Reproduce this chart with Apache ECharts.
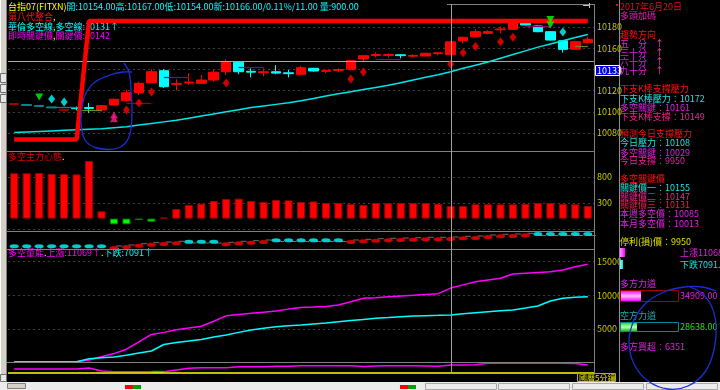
<!DOCTYPE html>
<html><head><meta charset="utf-8">
<script src="https://cdn.jsdelivr.net/npm/echarts@6/dist/echarts.min.js"></script>
<style>html,body{margin:0;padding:0;background:#000;}#c{width:720px;height:390px;}</style>
</head><body><div id="c"></div>
<script>
// ---------- data ----------
const categories = ['0','1','2','3','4','5','6','7','8','9','10','11','12','13','14','15','16','17','18','19','20','21','22','23','24','25','26','27','28','29','30','31','32','33','34','35','36','37','38','39','40','41','42','43','44','45','46'];
// [open, close, low, high]
const candles = [
 [10107.8,10106.9,10106.9,10107.8],[10106.9,10106.0,10106.0,10106.9],[10106.0,10105.1,10105.1,10106.0],
 [10104.6,10103.7,10103.7,10104.6],[10101.4,10102.3,10101.4,10102.3],[10103.8,10103.0,10101.5,10105.0],
 [10104.0,10103.2,10098.9,10108.3],[10101.7,10105.8,10100.1,10106.5],[10106.4,10111.8,10105.8,10112.8],
 [10110.5,10118.0,10109.5,10120.6],[10118.0,10126.9,10115.8,10128.4],[10127.5,10137.8,10126.9,10140.2],
 [10138.8,10123.7,10122.5,10140.2],[10126.0,10126.8,10119.9,10130.7],[10127.2,10128.0,10125.3,10136.3],
 [10126.9,10130.0,10126.5,10134.7],[10130.0,10137.3,10128.4,10139.4],[10137.8,10147.3,10134.7,10149.5],
 [10146.7,10137.8,10135.5,10147.3],[10138.2,10137.4,10132.5,10141.0],[10137.0,10137.8,10133.5,10141.0],
 [10137.8,10136.5,10135.4,10144.0],[10136.8,10136.0,10132.5,10139.5],[10135.4,10141.6,10135.0,10143.2],
 [10141.0,10138.5,10138.0,10141.5],[10138.2,10138.9,10136.6,10139.7],[10139.1,10139.9,10137.5,10141.0],
 [10140.1,10148.2,10139.0,10148.5],[10149.8,10152.9,10147.9,10153.6],[10153.2,10154.0,10151.2,10156.0],
 [10153.2,10154.0,10151.2,10155.2],[10153.8,10153.0,10150.5,10154.3],[10152.5,10153.2,10151.2,10154.3],
 [10152.6,10155.2,10152.3,10155.5],[10154.9,10155.7,10153.3,10155.8],[10154.0,10166.0,10154.0,10167.0],
 [10167.1,10170.3,10164.6,10170.8],[10170.8,10175.6,10170.3,10177.9],[10174.0,10175.6,10173.0,10177.0],
 [10177.4,10178.2,10174.0,10180.3],[10177.8,10184.0,10177.5,10184.5],[10183.5,10181.9,10181.5,10184.0],
 [10181.0,10175.6,10175.0,10181.5],[10175.6,10167.7,10167.0,10176.0],[10167.0,10158.9,10155.8,10167.5],
 [10159.0,10166.1,10158.5,10166.5],[10165.2,10168.4,10165.0,10170.8]
];
const earlyTint = ['dimred','teal','teal','teal','dimred'];
const maLine = [10080.5,10081,10081.5,10082,10082.5,10083,10083.5,10084,10085,10086,10087.5,10089,10090.5,10092,10094,10096,10098,10100,10102,10104,10105.5,10107,10108.5,10110.5,10112.5,10115,10117,10119,10121,10123,10125,10127.5,10130,10132.5,10135,10137.8,10141,10144,10147,10150.5,10154,10157.5,10161,10164,10167,10170,10173];
const stepLine = [10073.8,10073.8,10073.8,10073.8,10073.8,10073.8,10185.7,10185.7,10185.7,10185.7,10185.7,10185.7,10185.7,10185.7,10185.7,10185.7,10185.7,10185.7,10185.7,10185.7,10185.7,10185.7,10185.7,10185.7,10185.7,10185.7,10185.7,10185.7,10185.7,10185.7,10185.7,10185.7,10185.7,10185.7,10185.7,10185.7,10185.7,10185.7,10185.7,10185.7,10185.7,10185.7,10185.7,10185.7,10185.7,10185.7,10185.7];
const redDiamonds = [[9,10101.7],[10,10108.3],[11,10118.7],[17,10127.2],[27,10131],[28,10137.5],[35,10145],[36,10155.8],[37,10161.6],[39,10166.1],[40,10170.3]];
const cyanDiamonds = [[3,10112],[4,10109.2],[44,10175.3]];
const downArrows = [[2,10114],[43,10187],[43,10182]];
const upArrows = [[8,10097],[8,10093.5]];
const segFrom = [3,5,9,12,18,29,41,45];
const segTo   = [5,7,11,14,20,31,43,46];
const segVal  = [10104.6,10101,10108,10132.5,10142,10149.8,10181,10161.4];
const segKind = ['teal','olive','dimred','purple','purple','purple','purple','olive'];
const crossPrice = 10148;
const crossIndex = 35;
const priceTicks = [10060,10200,20];

const mainForce = [871,871,877,858,858,851,1108,140,-110,-110,-25,-60,20,185,262,287,338,377,383,338,319,358,351,320,330,300,300,281,262,300,294,300,300,300,281,242,242,275,275,275,275,281,300,300,281,275,242];

const stripVal = [2.7,2.7,2.7,2.7,2.7,2.7,2.7,2.7,1,2,3.3,4.3,5,5.7,7.3,7.3,7.3,4.7,5.7,6.3,7,8.7,8.7,8.7,8.7,8.7,8.7,7,7.7,8.3,8.7,9,9.3,9.7,9.7,10,10.7,11,12,12.7,13,13.7,15,15,15,15,15];
const stripUp  = [0,0,0,0,0,0,0,0,1,1,1,1,1,1,0,0,0,1,1,1,1,0,0,0,0,0,0,1,1,1,1,1,1,1,1,1,1,1,1,1,1,1,0,0,0,0,0];
const stripGray = [null,null,null,null,null,null,null,null,3,4,5.3,6.3,7,7.7,6,6,6,6.7,7.7,8.3,9,7.5,7.5,7.5,7.5,7.5,7.5,9,9.7,10.3,10.7,11,11.3,11.7,11.7,12,12.7,13,14,14.7,15,15.7,13.5,13.5,13.5,13.5,13.5];

const upVolume = [150,150,150,150,150,150,400,890,1350,2000,3100,4200,4500,4900,5150,5400,6150,6950,7150,7330,7500,7670,7950,8180,8250,8330,8560,9050,9550,9650,9780,9900,10000,10120,10240,11069,11550,12020,12270,12520,13160,13280,13400,13500,13760,14250,14600];
const downVolume = [150,150,150,150,150,150,600,750,850,1100,1440,1740,2700,3000,3220,3450,3800,4100,4500,4850,5100,5340,5470,5590,5750,5900,6080,6250,6420,6590,6700,6820,6930,6980,7030,7091,7250,7410,7570,7700,7820,8100,8410,9150,9550,9700,9790];
const volTicks = [0,16870,5000];

const bottomLine = [4,4,4,4,4,4,5,2,1.3,1.3,1.3,1.3,1.3,3,4.7,5.3,5.3,5.3,6.3,6.3,6.3,6.7,6.7,7.3,7.3,7.3,7.3,7.3,6.5,7,7.3,7.3,7.3,7,6.7,8,8,8.3,9.7,9.7,9.7,9.7,9.7,9.7,9.7,9.5,8];
const bottomGreen = [null,null,null,null,null,null,null,null,null,null,null,1.3,1.3,null,null,null,null,null,null,null,null,null,null,null,null,null,null,null,null,null,null,null,null,null,null,null,null,null,null,null,null,null,null,null,null,null,null];
const bottomBase = 0.7;

// ---------- styling ----------
const FONT = '"Noto Sans CJK TC","Noto Sans CJK SC",sans-serif';
const F9 = '9px ' + FONT;
const AX = '#c8c800';
const tint = {dimred:'#a00000', teal:'#008b8b', olive:'#6b8e23', purple:'#800080'};
const W = {left:8, right:126};
const splitStyle = {show:true, showMinLine:false, showMaxLine:false, lineStyle:{color:'#3c3c3c', type:[2,3], width:1}};
const plain = v => String(v);

const candleData = candles.map((c,i)=> i<earlyTint.length ?
  {value:c, itemStyle:{color:tint[earlyTint[i]], color0:tint[earlyTint[i]], borderColor:tint[earlyTint[i]], borderColor0:tint[earlyTint[i]]}} : c);

const segLines = segFrom.map((s,k)=>[
  {coord:[s, segVal[k]], lineStyle:{color:tint[segKind[k]], width:1.2, type:'solid'}},
  {coord:[segTo[k], segVal[k]]}
]);

const ellipse = 'path://M0 5A10 5 0 1 0 20 5A10 5 0 1 0 0 5Z';

function xa(g){return {type:'category', gridIndex:g, data:categories, show:false, boundaryGap:true};}

const option = {
  backgroundColor:'#000',
  animation:false,
  grid:[
    Object.assign({top:5.8, height:148.4}, W),
    Object.assign({top:151, height:78}, W),
    Object.assign({top:231, height:18}, W),
    Object.assign({top:249, height:113.7}, W),
    Object.assign({top:362.7, height:10.3}, W)
  ],
  xAxis:[xa(0),xa(1),xa(2),xa(3),xa(4)],
  yAxis:[
    {gridIndex:0, position:'right', min:priceTicks[0], max:priceTicks[1], interval:priceTicks[2],
     axisLine:{show:false}, axisTick:{show:false}, splitLine:splitStyle,
     axisLabel:{color:AX, fontSize:9, fontFamily:FONT, margin:3, showMinLabel:false, showMaxLabel:false, formatter:plain}},
    {gridIndex:1, position:'right', min:-200, max:1300, interval:500,
     axisLine:{show:false}, axisTick:{show:false},
     splitLine:{show:true, showMinLine:true, showMaxLine:false, lineStyle:{color:'#3c3c3c', type:[2,3]}},
     axisLabel:{color:AX, fontSize:9, fontFamily:FONT, margin:3, showMinLabel:false, showMaxLabel:false, formatter:plain}},
    {gridIndex:2, min:0, max:18, show:false},
    {gridIndex:3, position:'right', min:volTicks[0], max:volTicks[1], interval:volTicks[2],
     axisLine:{show:false}, axisTick:{show:false}, splitLine:splitStyle,
     axisLabel:{color:AX, fontSize:9, fontFamily:FONT, margin:3, showMinLabel:false, showMaxLabel:false, formatter:plain}},
    {gridIndex:4, min:0, max:10.3, show:false}
  ],
  series:[
    {type:'candlestick', xAxisIndex:0, yAxisIndex:0, data:candleData, barWidth:10, z:3,
     itemStyle:{color:'#ff0000', color0:'#00ffff', borderColor:'#ff0000', borderColor0:'#00ffff', borderWidth:1},
     markLine:{silent:true, symbol:['none','none'], label:{show:false}, animation:false,
       data:[{yAxis:crossPrice, lineStyle:{color:'#a8a8a8', type:'solid', width:1}}].concat(segLines)}},
    {type:'line', xAxisIndex:0, yAxisIndex:0, data:maLine, symbol:'none', z:4,
     lineStyle:{color:'#00e6e6', width:1.5}},
    {type:'line', xAxisIndex:0, yAxisIndex:0, data:stepLine, symbol:'none', z:5,
     lineStyle:{color:'#ff0000', width:4.5}},
    {type:'scatter', xAxisIndex:0, yAxisIndex:0, data:redDiamonds, symbol:'diamond', symbolSize:[7,9], z:6,
     itemStyle:{color:'#ff0000'}},
    {type:'scatter', xAxisIndex:0, yAxisIndex:0, data:cyanDiamonds, symbol:'diamond', symbolSize:[7,9], z:6,
     itemStyle:{color:'#00ffff'}},
    {type:'scatter', xAxisIndex:0, yAxisIndex:0, data:downArrows, symbol:'triangle', symbolRotate:180, symbolSize:[8,7], z:6,
     itemStyle:{color:'#00ff00'}},
    {type:'scatter', xAxisIndex:0, yAxisIndex:0, data:upArrows, symbol:'triangle', symbolSize:[8,7], z:6,
     itemStyle:{color:'#ff1a8c'}},
    {type:'bar', xAxisIndex:1, yAxisIndex:1, barWidth:8,
     data:mainForce.map(v=>({value:v, itemStyle: v>=0 ? {color:'#ff0000', borderColor:'#a00000', borderWidth:1}
                                                   : {color:'#00ff00', borderColor:'#008000', borderWidth:1}}))},
    {type:'scatter', xAxisIndex:2, yAxisIndex:2, symbol:'rect', symbolSize:[6,1], symbolOffset:[5,0],
     itemStyle:{color:'#8c8c8c'}, data:stripGray.map((v,i)=>[i,v])},
    {type:'scatter', xAxisIndex:2, yAxisIndex:2, symbol:ellipse, symbolSize:[9,4], z:3,
     data:stripVal.map((v,i)=>({value:[i,v], itemStyle:{color: stripUp[i] ? '#ff0000' : '#00ffff'}}))},
    {type:'line', xAxisIndex:3, yAxisIndex:3, data:upVolume, symbol:'none', lineStyle:{color:'#ff00ff', width:1.5}},
    {type:'line', xAxisIndex:3, yAxisIndex:3, data:downVolume, symbol:'none', lineStyle:{color:'#00ffff', width:1.5}},
    {type:'line', xAxisIndex:4, yAxisIndex:4, data:bottomLine, symbol:'none', lineStyle:{color:'#ff00ff', width:1.5},
     markLine:{silent:true, symbol:['none','none'], label:{show:false},
       data:[{yAxis:bottomBase, lineStyle:{color:'#ffff00', width:1.5, type:'solid'}}]}},
    {type:'line', xAxisIndex:4, yAxisIndex:4, data:bottomGreen, symbol:'none', lineStyle:{color:'#00c000', width:2}, z:3}
  ],
  graphic:{elements:[]}
};

// ---------- graphic helpers ----------
const G = option.graphic.elements;
let gid = 0;
function txt(x,y,text,fill,font,z){G.push({id:'g'+(gid++), type:'text', z:z||1, style:{x:x, y:y, text:text, fill:fill, font:font||F9, textVerticalAlign:'middle', verticalAlign:'middle'}});}
function rtxt(x,y,parts,z){
  let s='', rich={};
  parts.forEach((p,k)=>{s+='{p'+k+'|'+p[0]+'}'; rich['p'+k]={fill:p[1], font:F9};});
  G.push({id:'g'+(gid++), type:'text', z:z||1, style:{x:x, y:y, text:s, rich:rich, font:F9, textVerticalAlign:'middle', verticalAlign:'middle'}});
}
function rect(x,y,w,h,fill,stroke,z){G.push({id:'g'+(gid++), type:'rect', z:z||1, shape:{x:x,y:y,width:w,height:h}, style:{fill:fill||'none', stroke:stroke||null, lineWidth:1}});}
function line(x1,y1,x2,y2,stroke,w,z){G.push({id:'g'+(gid++), type:'line', z:z||1, shape:{x1:x1,y1:y1,x2:x2,y2:y2}, style:{stroke:stroke, lineWidth:w||1}});}
function poly(points,stroke,w,z){G.push({id:'g'+(gid++), type:'polyline', z:z||60, shape:{points:points, smooth:0.35}, style:{stroke:stroke, lineWidth:w, fill:'none'}});}

// frame lines
[151.5,231.5,249.5,362.5].forEach(y=>line(7,y,594,y,'#808080',1,8));
line(447,4.5,594,4.5,'#808080',1,8);
line(594.5,4,594.5,373,'#808080',1,8);
line(619.5,0,619.5,382,'#909090',1,8);
line(583,5.5,589,5.5,'#c0c0c0',1,8); line(589.5,3,589.5,8,'#c0c0c0',1,8);
rect(616,4,2,2,'#ff0000',null,8);

// header texts
rtxt(8,7,[['台指07(FITXN)','#ffff00'],['開:10154.00高:10167.00低:10154.00新:10166.00/0.11%/11.00 量:900.00','#00ffff']]);
rtxt(8,17,[['第八代整合','#ff1010'],[',','#ffff00']]);
rtxt(8,27,[['華倫多空線','#00ffff'],[',','#ffff00'],['多空線:10131↑','#00ffff']]);
rtxt(8,36,[['即時關鍵價','#ff00ff'],[',','#ffff00'],['關鍵價:10142','#ff00ff']]);
rtxt(8,157,[['多空主力心態','#e00000'],['.','#ffff00']]);
rtxt(8,253,[['多空量能','#ff00ff'],['.','#ffff00'],['上漲:11069↑','#ff00ff'],['.','#ffff00'],['下跌:7091↑','#00ffff']]);

// highlighted price label
rect(595.5,65.5,24,10,'#0000d8','#ffffff',20);
txt(597,70.8,'10133','#ffffff',F9,21);

// right info panel
txt(620,7,'2017年6月20日','#e0102a');
txt(620,16,'多頭加碼','#e020b0');
txt(620,35,'趨勢方向','#ff1010');
[['五　分',44],['三十分',53],['六十分',62],['九十分',71]].forEach(r=>{txt(620,r[1],r[0],'#e020e0'); txt(655,r[1],'↑','#ff40c0');});
txt(620,89,'下支K棒支撐壓力','#ff1010');
txt(620,99,'下支K棒壓力：10172','#20e0e0');
txt(620,108,'多空關鍵：10161','#e020e0');
txt(620,116.5,'下支K棒支撐：10149','#f02090');
txt(620,134,'預測今日支撐壓力','#ff1010');
txt(620,143,'今日壓力：10108','#20e0e0');
txt(620,152.5,'多空關鍵：10029','#e020e0');
txt(620,161,'今日支撐：9950','#f020a0');
txt(620,179,'多空關鍵價','#ff1010');
txt(620,188,'關鍵價一：10155','#20e0e0');
txt(620,196.5,'關鍵價二：10147','#f02090');
txt(620,205,'關鍵價三：10131','#e02050');
txt(620,214,'本週多空價：10085','#e020e0');
txt(620,223.5,'本月多空價：10013','#e020e0');
txt(620,241.5,'停利(損)價：9950','#e0e000');
G.push({id:'g'+(gid++), type:'rect', z:2, shape:{x:619,y:248,width:6,height:9}, style:{fill:new echarts.graphic.LinearGradient(0,0,1,0,[{offset:0,color:'#ffb0ff'},{offset:1,color:'#ff00ff'}])}});
txt(680,253,'上漲11068','#e020e0');
G.push({id:'g'+(gid++), type:'rect', z:2, shape:{x:619,y:260,width:4,height:9}, style:{fill:new echarts.graphic.LinearGradient(0,0,1,0,[{offset:0,color:'#c0ffff'},{offset:1,color:'#00e0e0'}])}});
txt(680,265,'下跌7091.00','#20e0e0');
txt(620,284,'多方力道','#e020e0');
rect(620.5,290.5,58,11,'none','#a00000',2);
G.push({id:'g'+(gid++), type:'rect', z:3, shape:{x:621,y:291,width:20,height:10}, style:{fill:new echarts.graphic.LinearGradient(0,0,0,1,[{offset:0,color:'#ff00ff'},{offset:0.5,color:'#ffc0ff'},{offset:1,color:'#ff00ff'}])}});
txt(680,296,'34909.00','#e020e0');
txt(620,316,'空方力道','#20a8a8');
rect(620.5,322.5,58,9,'none','#008c8c',2);
G.push({id:'g'+(gid++), type:'rect', z:3, shape:{x:621,y:323,width:16,height:8}, style:{fill:new echarts.graphic.LinearGradient(0,0,0,1,[{offset:0,color:'#20e020'},{offset:0.5,color:'#c0ffc0'},{offset:1,color:'#20c020'}])}});
txt(680,327,'28638.00','#20e020');
txt(620,347,'多方買超：6351','#e020e0');

// hand-drawn annotation loops
poly([[124,63],[129,72],[131,90],[132,113],[129,137],[118,148],[97,148],[85,140],[81,123],[82,107],[86,93],[95,82],[110,75],[123,72],[132,72]],'#1830d0',1.3);
poly([[687,286],[700,292],[711,305],[716,325],[714,350],[705,372],[688,386],[668,389],[648,381],[634,364],[629,342],[634,320],[646,303],[664,292],[684,287],[702,287],[716,291]],'#1830d0',1.3);

// status bar and scrollbars
rect(577.5,373.5,38,8,'#000000','#b0b000',30);
txt(579,377.8,'國曆5分鐘','#e8e800','8px '+FONT,31);
rect(0,382,720,8,'#ececec',null,30);
rect(7.5,383.5,18,5,'#d4d0c8','#808080',31);
rect(125,385,8,4,'#ff0000',null,31); rect(133,385,8,4,'#00a000',null,31);
rect(400,385,8,4,'#ff0000',null,31); rect(408,385,8,4,'#00a000',null,31);
[425,498,572,646].forEach(x=>rect(x+0.5,383.5,71,6,'none','#a8a8a8',31));
rect(0,0,7,382,'#d4d0c8',null,30);
line(6.5,0,6.5,382,'#808080',1,31);
line(0.5,0,0.5,382,'#ffffff',1,31);
[[0.5,73.5,6,9],[0.5,84.5,6,8],[0.5,94.5,6,8],[0.5,374.5,6,7]].forEach(b=>rect(b[0],b[1],b[2],b[3],'#e8e8e8','#707070',32));

const chart = echarts.init(document.getElementById('c'));
chart.setOption(option);
const cx = Math.round(chart.convertToPixel({xAxisIndex:0}, crossIndex)) + 0.5;
chart.setOption({graphic:{elements:[{id:'vx', type:'line', z:10, shape:{x1:cx,y1:4,x2:cx,y2:373}, style:{stroke:'#a0a0a0', lineWidth:1}}]}});
</script></body></html>
